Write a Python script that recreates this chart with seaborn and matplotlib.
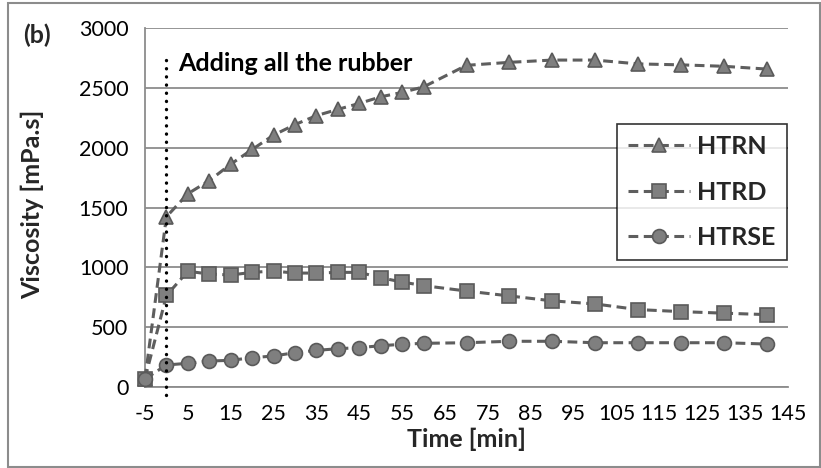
import matplotlib
matplotlib.use("Agg")
import matplotlib.pyplot as plt
from matplotlib.patches import Rectangle
import seaborn as sns
import pandas as pd

# Sampling times [min]
time_min = [-5, 0, 5, 10, 15, 20, 25, 30, 35, 40, 45, 50, 55, 60,
            70, 80, 90, 100, 110, 120, 130, 140]

# Viscosity [mPa.s] for each binder
htrn = [70, 1423, 1615, 1725, 1862, 1985, 2105, 2193, 2268, 2320, 2370, 2425, 2462, 2508,
        2688, 2713, 2732, 2732, 2700, 2692, 2680, 2657]
htrd = [70, 765, 967, 944, 936, 958, 969, 952, 952, 958, 958, 913, 877, 847,
        802, 761, 720, 694, 647, 630, 617, 605]
htrse = [67, 184, 198, 217, 223, 245, 259, 287, 306, 320, 329, 345, 357, 365,
         370, 382, 382, 370, 370, 370, 370, 359]

series_names = ["HTRN", "HTRD", "HTRSE"]
series_values = [htrn, htrd, htrse]
series_markers = ["^", "s", "o"]

x_ticks = list(range(-5, 146, 10))
y_ticks = list(range(0, 3001, 500))
rubber_time = 0
annotation = "Adding all the rubber"

sns.set_style("white")
plt.rcParams["font.family"] = ["Lato", "DejaVu Sans"]
plt.rcParams["axes.unicode_minus"] = False

df = pd.DataFrame({"Time": time_min})
for name, vals in zip(series_names, series_values):
    df[name] = vals

fig = plt.figure(figsize=(8.21, 4.68), dpi=100)
W, H = 821, 468
ax = fig.add_axes([145 / W, 1 - 387 / H, (788 - 145) / W, (387 - 28) / H])

grid_col = "#8c8c8c"
line_col = "#5e5e5e"
face_col = "#7f7f7f"
bold_size = 18
tick_size = 15.5

for name, mk in zip(series_names, series_markers):
    sns.lineplot(data=df, x="Time", y=name, ax=ax, label=name,
                 color=line_col, linewidth=2.2, linestyle=(0, (3.2, 1.8)),
                 marker=mk, markersize=10.5 if mk == "^" else 10,
                 markerfacecolor=face_col, markeredgecolor="#5a5a5a",
                 markeredgewidth=1.2, clip_on=False, zorder=3)

# vertical marker for the rubber addition
ax.plot([rubber_time, rubber_time], [-67, 2782], color="black",
        linewidth=2.4, linestyle=(0, (0.05, 2.4)), dash_capstyle="round",
        solid_capstyle="round", clip_on=False, zorder=5)
ax.text(2.7, 2700, annotation, fontsize=bold_size, fontweight="bold",
        ha="left", va="center", color="black")

ax.set_xlim(-5, 145)
ax.set_ylim(0, 3000)
ax.set_xticks(x_ticks)
ax.set_yticks(y_ticks)
ax.tick_params(axis="both", labelsize=tick_size, colors=grid_col, labelcolor="black",
               direction="out", length=6, width=1.3)
ax.tick_params(axis="x", pad=6)
ax.tick_params(axis="y", pad=6)

ax.yaxis.grid(True, color=grid_col, linewidth=1.3)
ax.xaxis.grid(False)
ax.set_axisbelow(True)
for side in ["top", "right"]:
    ax.spines[side].set_visible(False)
for side in ["left", "bottom"]:
    ax.spines[side].set_color(grid_col)
    ax.spines[side].set_linewidth(1.3)

ax.set_xlabel("Time [min]", fontsize=bold_size, fontweight="bold")
ax.set_ylabel("Viscosity [mPa.s]", fontsize=bold_size, fontweight="bold")
ax.xaxis.set_label_coords((466 - 145) / 643, (387 - 428) / 359)
ax.yaxis.set_label_coords((44 - 145) / 643, (387 - 204) / 359)

leg = ax.legend(loc="upper right", bbox_to_anchor=(0.998, 0.733),
                borderaxespad=0, prop={"weight": "bold", "size": bold_size},
                frameon=True, fancybox=False, edgecolor="black",
                handlelength=2.45, handletextpad=0.3, labelspacing=0.9,
                borderpad=0.45)
leg.get_frame().set_linewidth(1.2)

fig.text(23 / W, 1 - 35 / H, "(b)", fontsize=bold_size, fontweight="bold",
         ha="left", va="center")

# outer chart frame
fig.patches.append(Rectangle((8 / W, 1 - 466.5 / H), (820 - 8) / W, (466.5 - 3) / H,
                             transform=fig.transFigure, fill=False,
                             edgecolor="#8c8c8c", linewidth=1.5, zorder=0))

fig.savefig("out.png", dpi=100)
